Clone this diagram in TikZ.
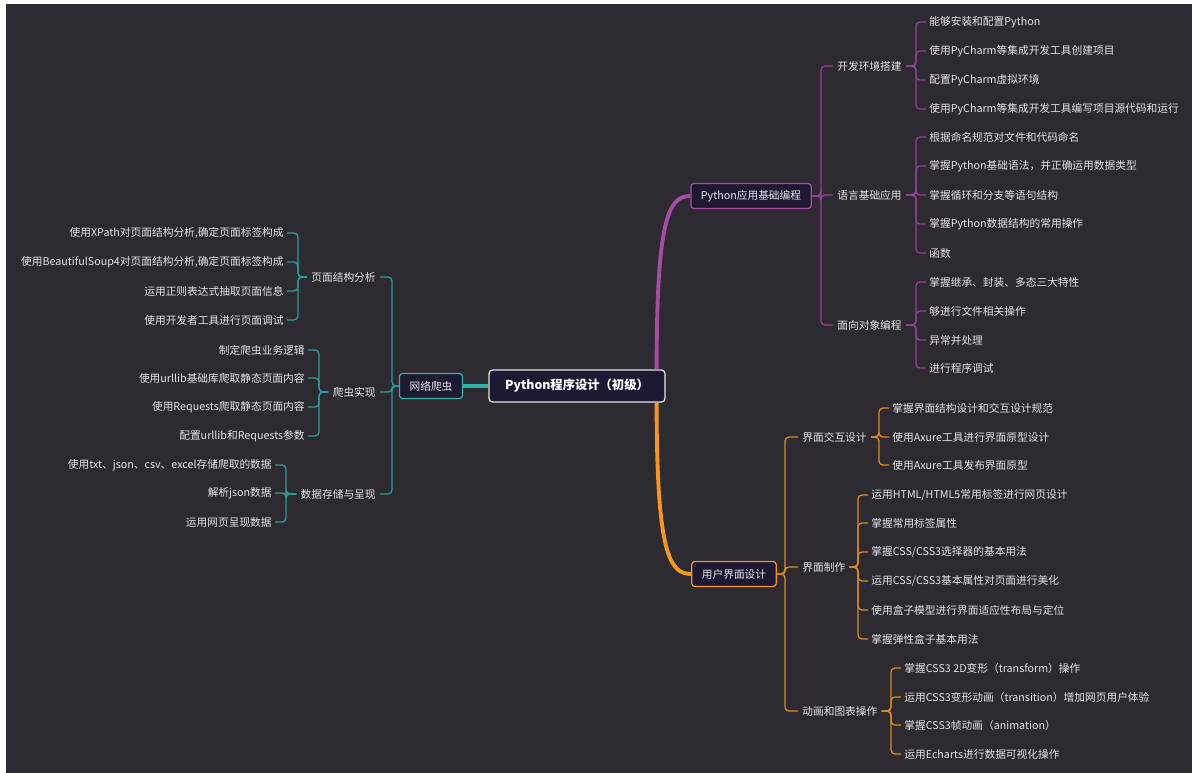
\documentclass[tikz,border=0pt]{standalone}
\usepackage{fontspec}
\setmainfont{Noto Sans CJK SC}
\definecolor{bg}{HTML}{2D2A32}
\definecolor{boxfill}{HTML}{1E1932}
\definecolor{lt}{HTML}{E4E4E4}
\definecolor{pur}{HTML}{A64CA6}
\definecolor{purthin}{HTML}{963F93}
\definecolor{ora}{HTML}{F6961A}
\definecolor{orathin}{HTML}{DA8B1F}
\definecolor{tea}{HTML}{2FB3A8}
\definecolor{teathin}{HTML}{2A9C94}
\begin{document}
\begin{tikzpicture}[x=0.02cm,y=-0.02cm,
  rootbox/.style={draw=lt,fill=boxfill,rounded corners=0.07cm,line width=0.7pt,
    minimum width=3.52cm,minimum height=0.64cm,text=white,
    font=\fontsize{7}{8}\selectfont\bfseries},
  topic/.style={fill=boxfill,rounded corners=0.06cm,line width=0.7pt,
    minimum height=0.5cm,inner xsep=0.2cm,text=lt,font=\fontsize{6.1}{7}\selectfont},
  mid/.style={text=lt,inner sep=0.08cm,font=\fontsize{6.1}{7}\selectfont},
  leaf/.style={text=lt,inner sep=0.06cm,font=\fontsize{6.1}{7}\selectfont},
  pl/.style={draw=purthin,line width=0.75pt,rounded corners=0.08cm},
  ol/.style={draw=orathin,line width=0.75pt,rounded corners=0.08cm},
  tl/.style={draw=teathin,line width=0.75pt,rounded corners=0.08cm}]
\useasboundingbox (0,0) rectangle (1192,773);
\fill[white] (0,0) rectangle (1192,773);
\fill[bg] (6,4) rectangle (1192,773);

% centre and main topics
\node[rootbox] (root) at (577,386) {Python程序设计（初级）};
\node[topic,draw=pur] (pyb) at (751,196) {Python应用基础编程};
\node[topic,draw=ora] (uib) at (734,574) {用户界面设计};
\node[topic,draw=tea] (net) at (431,386) {网络爬虫};

\draw[pur,line width=2.2pt] ([xshift=-0.18cm]root.north east)
  .. controls +(0,-150) and +(-22,0) .. (pyb.west);
\draw[ora,line width=2.2pt] ([xshift=-0.18cm]root.south east)
  .. controls +(0,150) and +(-22,0) .. (uib.west);
\draw[tea,line width=1.8pt] (root.west) -- (net.east);

% subtopics
\begin{scope}[every node/.style={mid,anchor=west}]
  \node (dev) at (833,66) {开发环境搭建};
  \node (lang) at (833,195) {语言基础应用};
  \node (oop) at (833,325) {面向对象编程};
  \node (ixd) at (798,437) {界面交互设计};
  \node (make) at (798,567) {界面制作};
  \node (anim) at (798,711) {动画和图表操作};
\end{scope}
\begin{scope}[every node/.style={mid,anchor=east}]
  \node (page) at (380,277) {页面结构分析};
  \node (crawl) at (380,392) {爬虫实现};
  \node (store) at (380,494) {数据存储与呈现};
\end{scope}

% leaves, right side
\begin{scope}[every node/.style={leaf,anchor=west}]
  \node (d1) at (926,22) {能够安装和配置Python};
  \node (d2) at (926,51) {使用PyCharm等集成开发工具创建项目};
  \node (d3) at (926,80) {配置PyCharm虚拟环境};
  \node (d4) at (926,109) {使用PyCharm等集成开发工具编写项目源代码和运行};
  \node (l1) at (926,137) {根据命名规范对文件和代码命名};
  \node (l2) at (926,166) {掌握Python基础语法，并正确运用数据类型};
  \node (l3) at (926,195) {掌握循环和分支等语句结构};
  \node (l4) at (926,224) {掌握Python数据结构的常用操作};
  \node (l5) at (926,253) {函数};
  \node (o1) at (926,282) {掌握继承、封装、多态三大特性};
  \node (o2) at (926,311) {够进行文件相关操作};
  \node (o3) at (926,340) {异常并处理};
  \node (o4) at (926,368) {进行程序调试};
  \node (i1) at (889,408) {掌握界面结构设计和交互设计规范};
  \node (i2) at (889,437) {使用Axure工具进行界面原型设计};
  \node (i3) at (889,465) {使用Axure工具发布界面原型};
  \node (m1) at (868,495) {运用HTML/HTML5常用标签进行网页设计};
  \node (m2) at (868,523) {掌握常用标签属性};
  \node (m3) at (868,552) {掌握CSS/CSS3选择器的基本用法};
  \node (m4) at (868,581) {运用CSS/CSS3基本属性对页面进行美化};
  \node (m5) at (868,610) {使用盒子模型进行界面适应性布局与定位};
  \node (m6) at (868,639) {掌握弹性盒子基本用法};
  \node (a1) at (901,668) {掌握CSS3 2D变形（transform）操作};
  \node (a2) at (901,697) {运用CSS3变形动画（transition）增加网页用户体验};
  \node (a3) at (901,725) {掌握CSS3帧动画（animation）};
  \node (a4) at (901,754) {运用Echarts进行数据可视化操作};
\end{scope}

% leaves, left side
\begin{scope}[every node/.style={leaf,anchor=east}]
  \node (p1) at (287,233) {使用XPath对页面结构分析,确定页面标签构成};
  \node (p2) at (287,262) {使用BeautifulSoup4对页面结构分析,确定页面标签构成};
  \node (p3) at (287,291) {运用正则表达式抽取页面信息};
  \node (p4) at (287,320) {使用开发者工具进行页面调试};
  \node (c1) at (308,350) {制定爬虫业务逻辑};
  \node (c2) at (308,378) {使用urllib基础库爬取静态页面内容};
  \node (c3) at (308,407) {使用Requests爬取静态页面内容};
  \node (c4) at (308,436) {配置urllib和Requests参数};
  \node (s1) at (275,465) {使用txt、json、csv、excel存储爬取的数据};
  \node (s2) at (275,493) {解析json数据};
  \node (s3) at (275,522) {运用网页呈现数据};
\end{scope}

% connectors
\foreach \n in {dev,lang,oop} \draw[pl] (\n.west) -- ++(-12,0) |- (pyb.east);
\foreach \n in {d1,d2,d3,d4} \draw[pl] (\n.west) -- ++(-10,0) |- (dev.east);
\foreach \n in {l1,l2,l3,l4,l5} \draw[pl] (\n.west) -- ++(-10,0) |- (lang.east);
\foreach \n in {o1,o2,o3,o4} \draw[pl] (\n.west) -- ++(-10,0) |- (oop.east);

\foreach \n in {ixd,make,anim} \draw[ol] (\n.west) -- ++(-13,0) |- (uib.east);
\foreach \n in {i1,i2,i3} \draw[ol] (\n.west) -- ++(-10,0) |- (ixd.east);
\foreach \n in {m1,m2,m3,m4,m5,m6} \draw[ol] (\n.west) -- ++(-10,0) |- (make.east);
\foreach \n in {a1,a2,a3,a4} \draw[ol] (\n.west) -- ++(-10,0) |- (anim.east);

\foreach \n in {page,crawl,store} \draw[tl] (\n.east) -- ++(12,0) |- (net.west);
\foreach \n in {p1,p2,p3,p4} \draw[tl] (\n.east) -- ++(11,0) |- (page.west);
\foreach \n in {c1,c2,c3,c4} \draw[tl] (\n.east) -- ++(11,0) |- (crawl.west);
\foreach \n in {s1,s2,s3} \draw[tl] (\n.east) -- ++(11,0) |- (store.west);
\end{tikzpicture}
\end{document}
